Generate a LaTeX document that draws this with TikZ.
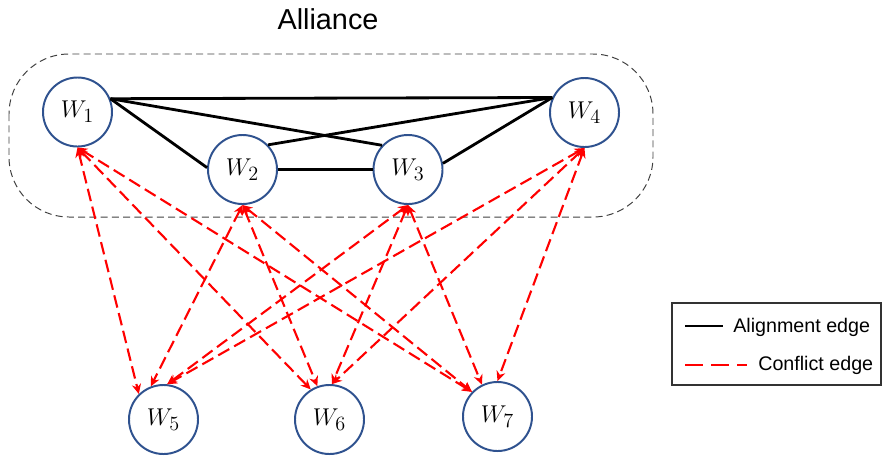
\documentclass[tikz,border=0pt]{standalone}
\usepackage{fontspec}
\setmainfont{Liberation Sans}
\usetikzlibrary{arrows.meta}
\definecolor{agentblue}{RGB}{47,82,143}

\begin{document}
\begin{tikzpicture}[x=0.025cm,y=-0.025cm,
	agent/.style={circle,draw=agentblue,line width=1.4pt,fill=white,minimum size=1.725cm,inner sep=0pt,font=\fontsize{19}{22}\selectfont},
	alignedge/.style={black,line width=2pt},
	conflictedge/.style={red,line width=1.5pt,dash pattern=on 9pt off 4pt,>={Stealth[length=7pt,width=6.5pt]},<->}]
\useasboundingbox (0,0) rectangle (882,456);
\draw[black!75,line width=0.7pt,dash pattern=on 5pt off 3pt,rounded corners=1.5cm] (9,54) rectangle (653,217);
\node[font=\fontsize{20.5}{24}\selectfont] (title) at (328,19) {Alliance};
\node[agent] (W1) at (77.5,112) {$W_1$};
\node[agent] (W2) at (242.5,169.5) {$W_2$};
\node[agent] (W3) at (408,169.5) {$W_3$};
\node[agent] (W4) at (584.5,112.5) {$W_4$};
\node[agent] (W5) at (163.5,419.5) {$W_5$};
\node[agent] (W6) at (329.5,419.5) {$W_6$};
\node[agent] (W7) at (497.5,416.5) {$W_7$};
\draw[alignedge] (W1.22) -- (W4.155);
\draw[alignedge] (W1.22) -- (W3.137);
\draw[alignedge] (W1.22) -- (W2.177);
\draw[alignedge] (W2.44) -- (W4.155);
\draw[alignedge] (W2.east) -- (W3.west);
\draw[alignedge] (W3.10) -- (W4.155);
\foreach \s/\t/\a in {W1/W5/134,W1/W6/122,W1/W7/136,W2/W5/111,W2/W6/110,W2/W7/136,W3/W5/84,W3/W6/86,W3/W7/116,W4/W5/84,W4/W6/86,W4/W7/90}
	\draw[conflictedge] (\s.south) -- (\t.\a);
\draw[black!80,line width=1pt] (672,303) rectangle (881,385);
\coordinate (la) at (685,326);
\coordinate (lb) at (723,326);
\coordinate (lc) at (685,365);
\coordinate (ld) at (747,365);
\draw[alignedge,line width=1.5pt] (la) -- (lb);
\draw[red,line width=1.5pt,dash pattern=on 12.5pt off 6pt] (lc) -- (ld);
\node[anchor=base west,inner sep=0pt,font=\fontsize{14}{16}\selectfont] (alignlabel) at (733,332) {Alignment edge};
\node[anchor=base west,inner sep=0pt,font=\fontsize{14}{16}\selectfont] (conflictlabel) at (758,370) {Conflict edge};
\end{tikzpicture}
\end{document}
